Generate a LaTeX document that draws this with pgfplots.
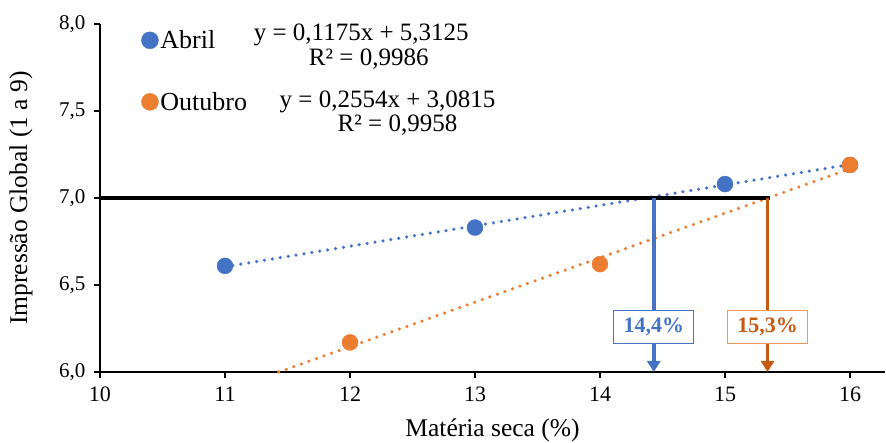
\documentclass[border=0pt]{standalone}
\usepackage{fontspec}
\setmainfont{Liberation Serif}
\usepackage{pgfplots}
\pgfplotsset{compat=1.18}
\usetikzlibrary{arrows.meta}
\definecolor{cblue}{HTML}{4472C4}
\definecolor{corange}{HTML}{ED7D31}
\definecolor{cdark}{HTML}{C55A11}
\newcommand{\ft}{\fontsize{21}{25}\selectfont}
\newcommand{\fx}{\fontsize{22}{26}\selectfont}
\newcommand{\fa}{\fontsize{25.5}{30}\selectfont}
\newcommand{\fl}{\fontsize{26}{30}\selectfont}
\newcommand{\fe}{\fontsize{25}{29}\selectfont}
\begin{document}
\begin{tikzpicture}
\begin{axis}[
    scale only axis,
    width=785pt, height=348pt,
    xmin=10, xmax=16.28,
    ymin=6, ymax=8,
    xtick={10,11,12,13,14,15,16},
    ytick={6,6.5,7,7.5,8},
    axis x line*=bottom, axis y line*=left,
    axis line style={-, line width=1.7pt},
    tick style={black, line width=1.3pt},
    major tick length=6pt,
    tick align=outside,
    clip=false,
    /pgf/number format/assume math mode=true,
    xticklabel style={font=\fx, yshift=-5pt},
    yticklabel style={font=\ft, xshift=-5pt, /pgf/number format/.cd, use comma, fixed, fixed zerofill, precision=1},
    xlabel={Matéria seca (\%)},
    ylabel={Impressão Global (1 a 9)},
    xlabel style={font=\fa, at={(axis description cs:0.5,0)}, anchor=center, yshift=-58pt},
    ylabel style={font=\fa, at={(axis description cs:0,0.5)}, anchor=center, yshift=79pt},
    legend style={at={(axis cs:10.33,7.975)}, anchor=north west, draw=none, fill=none,
        font=\fl, row sep=38pt, inner sep=0pt,
        /tikz/every even column/.append style={column sep=3pt}},
    legend cell align=left,
    legend image code/.code={\draw[mark size=8.5pt] plot coordinates {(0pt,0pt)};},
]
% trendlines
\addplot[forget plot, cblue, line width=3.5pt, line cap=round, dash pattern=on 0pt off 8pt] coordinates {(11,6.605) (16,7.1925)};
\addplot[forget plot, corange, line width=3.5pt, line cap=round, dash pattern=on 0pt off 8pt] coordinates {(11.43,6.0) (16,7.168)};

% Abril
\addplot[only marks, mark=*, mark size=8pt, cblue, mark options={draw=cblue, fill=cblue}] coordinates {
    (11, 6.61)
    (13, 6.83)
    (15, 7.08)
    (16, 7.19)
};
\addlegendentry{Abril}

% Outubro
\addplot[only marks, mark=*, mark size=8pt, corange, mark options={draw=corange, fill=corange}] coordinates {
    (12, 6.17)
    (14, 6.62)
    (16, 7.19)
};
\addlegendentry{Outubro}

% reference line and arrows
\addplot[forget plot, black, line width=4pt] coordinates {(10,7) (15.36,7)};
\addplot[forget plot, cblue, line width=3.5pt, -{Triangle[width=13pt,length=11pt]}] coordinates {(14.43,7) (14.43,6)};
\addplot[forget plot, cdark, line width=3.5pt, -{Triangle[width=13pt,length=11pt]}] coordinates {(15.34,7) (15.34,6)};

\node[draw=cblue, line width=0.9pt, fill=white, text=cblue, font=\fx\bfseries, minimum width=80pt, minimum height=33pt] at (axis cs:14.43,6.26) {14,4\%};
\node[draw=corange!80, line width=0.9pt, fill=white, text=cdark, font=\fx\bfseries, minimum width=80pt, minimum height=33pt] at (axis cs:15.34,6.26) {15,3\%};

% equations
\node[font=\fe, inner sep=0pt] at (axis cs:12.09,7.935) {y = 0,1175x + 5,3125};
\node[font=\fe, inner sep=0pt] at (axis cs:12.15,7.80) {R² = 0,9986};
\node[font=\fe, inner sep=0pt] at (axis cs:12.30,7.555) {y = 0,2554x + 3,0815};
\node[font=\fe, inner sep=0pt] at (axis cs:12.38,7.42) {R² = 0,9958};

\coordinate (bl) at (rel axis cs:0,0);
\coordinate (tr) at (rel axis cs:1,1);
\end{axis}
\pgfresetboundingbox
\path ([xshift=-100pt,yshift=-71pt]bl) rectangle ([xshift=1pt,yshift=24pt]tr);
\end{tikzpicture}
\end{document}
